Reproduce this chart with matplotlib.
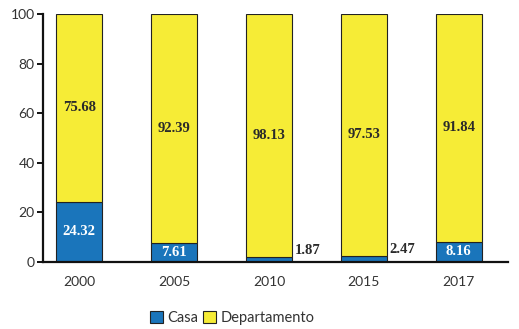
import matplotlib
matplotlib.use('Agg')
import matplotlib.pyplot as plt

years = ['2000', '2005', '2010', '2015', '2017']
casa = [24.32, 7.61, 1.87, 2.47, 8.16]
departamento = [75.68, 92.39, 98.13, 97.53, 91.84]

BLUE = '#1a75bb'
YELLOW = '#f6ec36'

fig = plt.figure(figsize=(5.19, 3.29), dpi=100)
ax = fig.add_axes([0.083, 0.2036, 0.896, 0.7537])

x = list(range(len(years)))
ax.bar(x, casa, width=0.49, color=BLUE, edgecolor='#222222', linewidth=0.8, label='Casa')
ax.bar(x, departamento, width=0.49, bottom=casa, color=YELLOW, edgecolor='#222222',
       linewidth=0.8, label='Departamento')

label_font = dict(family='Liberation Serif', fontweight='bold', fontsize=10.5)
for i, (c, d) in enumerate(zip(casa, departamento)):
    ax.text(i, c + d / 2, f'{d:.2f}', ha='center', va='center', color='#2a2a2a', **label_font)
    if c > 5:
        ax.text(i, c / 2, f'{c:.2f}', ha='center', va='center', color='white', **label_font)
    else:
        # small segments get their label beside the bar
        ax.text(i + 0.27, c, f'{c:.2f}', ha='left', va='bottom', color='#2a2a2a', **label_font)

ax.set_xlim(-0.38, 4.52)
ax.set_ylim(0, 100)
ax.set_yticks([0, 20, 40, 60, 80, 100])
ax.set_xticks(x)
ax.set_xticklabels(years)

for side in ['top', 'right']:
    ax.spines[side].set_visible(False)
for side in ['left', 'bottom']:
    ax.spines[side].set_linewidth(1.6)
    ax.spines[side].set_color('#111111')

ax.tick_params(axis='y', length=4, width=1.4, color='#111111', labelsize=10,
               labelcolor='#333333', pad=2)
ax.tick_params(axis='x', length=0, labelsize=10, labelcolor='#333333', pad=10)
for lbl in ax.get_xticklabels() + ax.get_yticklabels():
    lbl.set_family('Lato')

leg = fig.legend(loc='center', bbox_to_anchor=(0.447, 0.034), ncol=2, frameon=False,
                 handlelength=0.9, handleheight=0.9, handletextpad=0.3, columnspacing=0.3,
                 prop={'family': 'Lato', 'size': 10.5})
for t in leg.get_texts():
    t.set_color('#333333')

fig.savefig('out.png', dpi=100)
